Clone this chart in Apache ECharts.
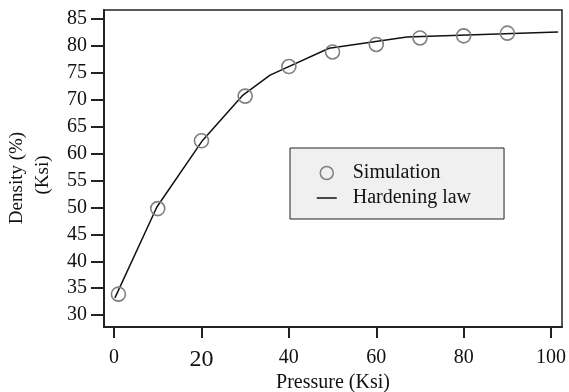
<!DOCTYPE html>
<html>
<head>
<meta charset="utf-8">
<script src="https://cdn.jsdelivr.net/npm/echarts@6/dist/echarts.min.js"></script>
<style>
  html, body { margin: 0; padding: 0; background: #fff; }
  #chart { width: 569px; height: 392px; }
</style>
</head>
<body>
<div id="chart"></div>
<script>
// simulation points (pressure, density)
const simX = [1, 10, 20, 30, 40, 50, 60, 70, 80, 90]
const simY = [33.9, 49.8, 62.4, 70.7, 76.2, 78.9, 80.3, 81.5, 81.9, 82.4]

// hardening law polyline
const lawX = [0.2, 9.8, 20.1, 29.5, 35.7, 49.2, 67, 101.6]
const lawY = [33.2, 50.1, 62.3, 70.9, 74.6, 79.6, 81.7, 82.6]

const xTicks = [0, 20, 40, 60, 80, 100]
const yTicks = [30, 35, 40, 45, 50, 55, 60, 65, 70, 75, 80, 85]

const serif = '"Liberation Serif", "DejaVu Serif", serif'
const chart = echarts.init(document.getElementById('chart'))

const option = {
  animation: false,
  textStyle: { fontFamily: serif },
  grid: {
    left: 104, right: 7, top: 10, bottom: 65,
    outerBoundsMode: 'none',
    containLabel: false,
    show: true,
    borderColor: '#222',
    borderWidth: 1.5,
  },
  legend: {
    left: 290,
    top: 148,
    orient: 'vertical',
    backgroundColor: '#f0f0f0',
    borderColor: '#222',
    borderWidth: 1,
    borderRadius: 0,
    padding: [15, 33, 11, 26],
    itemGap: 5,
    itemWidth: 20,
    itemHeight: 13,
    textStyle: { fontFamily: serif, fontSize: 20, color: '#111', padding: [0, 0, 0, 11] },
    data: [
      {
        name: 'Simulation',
        icon: 'circle',
        itemStyle: { color: 'rgba(0,0,0,0)', borderColor: '#808080', borderWidth: 1.5 },
      },
      {
        name: 'Hardening law',
        itemStyle: { color: 'rgba(0,0,0,0)', borderColor: 'rgba(0,0,0,0)', borderWidth: 0 },
        lineStyle: { color: '#111', width: 1.5 },
      },
    ],
  },
  xAxis: {
    type: 'value',
    min: -2.3,
    max: 102.5,
    name: 'Pressure (Ksi)',
    nameLocation: 'middle',
    nameGap: 46,
    nameMoveOverlap: false,
    nameTextStyle: { fontFamily: serif, fontSize: 20, color: '#111' },
    splitLine: { show: false },
    axisLine: { show: true, onZero: false, lineStyle: { color: '#222', width: 2 } },
    axisTick: { show: true, length: 11, customValues: xTicks, lineStyle: { color: '#222', width: 2 } },
    axisLabel: {
      customValues: xTicks,
      margin: 21,
      fontFamily: serif,
      fontSize: 20,
      color: '#111',
      formatter: v => (v === 20 ? '{big|20}' : String(v)),
      rich: { big: { fontFamily: serif, fontSize: 24, color: '#111' } },
    },
  },
  yAxis: {
    type: 'value',
    min: 27.8,
    max: 86.7,
    splitLine: { show: false },
    axisLine: { show: true, onZero: false, lineStyle: { color: '#222', width: 2 } },
    axisTick: { show: true, length: 13, customValues: yTicks, lineStyle: { color: '#222', width: 2 } },
    axisLabel: { customValues: yTicks, margin: 17, fontFamily: serif, fontSize: 20, color: '#111' },
  },
  graphic: [
    {
      type: 'text', x: 17, y: 178, rotation: Math.PI / 2,
      style: { text: 'Density (%)', fontFamily: serif, fontSize: 19, fill: '#111', align: 'center', verticalAlign: 'middle' },
    },
    {
      type: 'text', x: 43, y: 175, rotation: Math.PI / 2,
      style: { text: '(Ksi)', fontFamily: serif, fontSize: 19, fill: '#111', align: 'center', verticalAlign: 'middle' },
    },
  ],
  series: [
    {
      name: 'Hardening law',
      type: 'line',
      symbol: 'none',
      data: lawX.map((x, i) => [x, lawY[i]]),
      lineStyle: { color: '#111', width: 1.5 },
      itemStyle: { color: '#111' },
      z: 2,
    },
    {
      name: 'Simulation',
      type: 'scatter',
      symbol: 'circle',
      symbolSize: 14,
      data: simX.map((x, i) => [x, simY[i]]),
      itemStyle: { color: 'rgba(0,0,0,0)', borderColor: '#808080', borderWidth: 1.6, opacity: 1 },
      z: 3,
    },
  ],
}

chart.setOption(option)
</script>
</body>
</html>
